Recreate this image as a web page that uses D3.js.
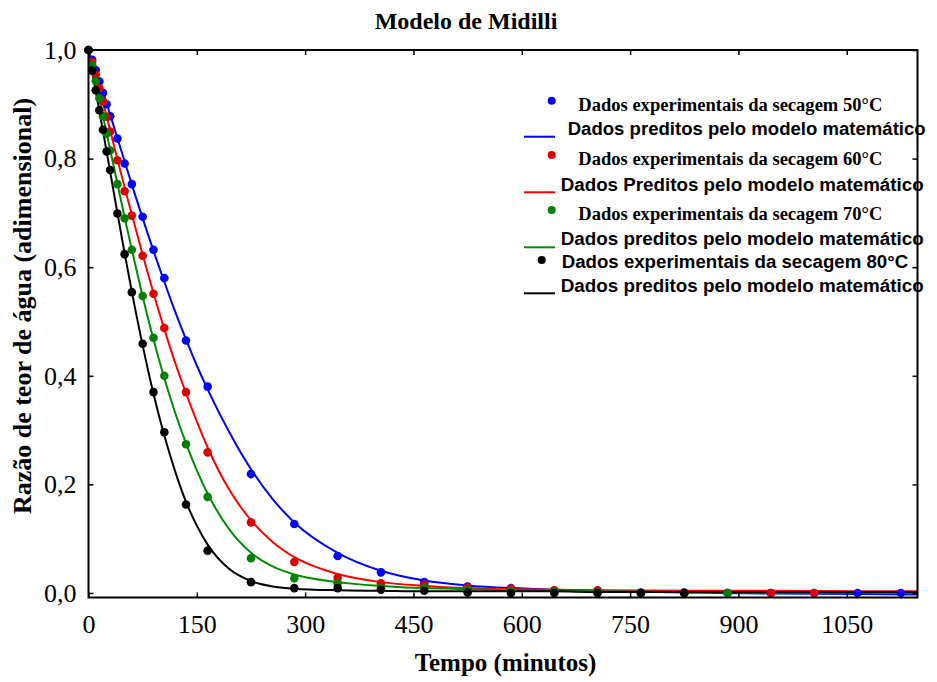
<!DOCTYPE html>
<html>
<head>
<meta charset="utf-8">
<script src="https://cdn.jsdelivr.net/npm/d3@7/dist/d3.min.js"></script>
<style>
  html, body { margin: 0; padding: 0; background: #fff; }
  svg { display: block; }
</style>
</head>
<body>
<svg id="chart" width="937" height="682"></svg>
<script>
// Experimental sampling times (minutes)
const times = [0, 5, 10, 15, 20, 25, 30, 40, 50, 60, 75, 90, 105, 135, 165, 225, 285, 345,
  405, 465, 525, 585, 645, 705, 765, 825, 885, 945, 1005, 1065, 1125];

// Measured moisture ratio at each drying temperature (null = no reading)
const exp50 = [1.000, 0.982, 0.963, 0.942, 0.921, 0.900, 0.878, 0.837, 0.791, 0.753, 0.693, 0.632,
  0.580, 0.465, 0.380, 0.219, 0.127, 0.068, 0.038, 0.020, 0.012, 0.009, 0.004, 0.003, 0.001,
  0.001, 0.000, 0.000, 0.000, 0.000, 0.000];
const exp60 = [1.000, 0.978, 0.955, 0.930, 0.905, 0.877, 0.850, 0.797, 0.740, 0.695, 0.621, 0.551,
  0.488, 0.370, 0.259, 0.130, 0.057, 0.028, 0.018, 0.015, 0.010, 0.008, 0.005, 0.005, 0.000,
  0.000, 0.000, 0.000, 0.000, null, null];
const exp70 = [1.000, 0.972, 0.943, 0.911, 0.878, 0.846, 0.815, 0.753, 0.690, 0.632, 0.547, 0.470,
  0.400, 0.274, 0.177, 0.064, 0.027, 0.018, 0.009, 0.010, 0.006, 0.004, 0.002, 0.001, 0.000,
  0.000, 0.000, null, null, null, null];
const exp80 = [1.000, 0.962, 0.926, 0.889, 0.853, 0.813, 0.779, 0.699, 0.624, 0.554, 0.459, 0.370,
  0.296, 0.163, 0.078, 0.020, 0.009, 0.009, 0.006, 0.004, 0.001, 0.000, 0.000, 0.000, 0.000,
  0.000, null, null, null, null, null];

// Midilli model predictions, sampled along the time axis
const predTimes = [0, 10, 20, 30, 40, 50, 60, 75, 90, 105, 120, 135, 150, 165, 195, 225, 255, 285,
  345, 405, 465, 525, 585, 645, 705, 825, 945, 1065, 1148];
const pred50 = [0.998, 0.964, 0.924, 0.881, 0.838, 0.795, 0.752, 0.690, 0.630, 0.573, 0.518, 0.467,
  0.419, 0.375, 0.296, 0.228, 0.173, 0.130, 0.074, 0.041, 0.023, 0.014, 0.009, 0.006, 0.004,
  0.001, -0.001, -0.002, -0.003];
const pred60 = [0.998, 0.955, 0.905, 0.852, 0.799, 0.747, 0.697, 0.623, 0.552, 0.486, 0.424, 0.368,
  0.316, 0.268, 0.190, 0.134, 0.094, 0.066, 0.035, 0.020, 0.013, 0.009, 0.007, 0.006, 0.005,
  0.004, 0.004, 0.003, 0.003];
const pred70 = [0.998, 0.942, 0.879, 0.816, 0.754, 0.692, 0.632, 0.546, 0.467, 0.396, 0.332, 0.276,
  0.226, 0.183, 0.117, 0.074, 0.049, 0.034, 0.020, 0.013, 0.009, 0.007, 0.005, 0.004, 0.003,
  0.002, 0.001, 0.001, 0.000];
const pred80 = [0.998, 0.925, 0.851, 0.776, 0.700, 0.626, 0.555, 0.456, 0.367, 0.290, 0.224, 0.168,
  0.124, 0.089, 0.044, 0.022, 0.012, 0.008, 0.005, 0.004, 0.003, 0.003, 0.003, 0.003, 0.002,
  0.002, 0.002, 0.002, 0.002];

// Axis ticks
const xTicks = [0, 150, 300, 450, 600, 750, 900, 1050];
const yTicks = [0, 0.2, 0.4, 0.6, 0.8, 1.0];

// Legend texts
const legendLabels = [
  "Dados experimentais da secagem 50°C",
  "Dados preditos pelo modelo matemático",
  "Dados experimentais da secagem 60°C",
  "Dados Preditos pelo modelo matemático",
  "Dados experimentais da secagem 70°C",
  "Dados preditos pelo modelo matemático",
  "Dados experimentais da secagem 80°C",
  "Dados preditos pelo modelo matemático"
];

const SERIF = "'Liberation Serif', 'Times New Roman', Times, serif";
const SANS = "'Liberation Sans', Arial, Helvetica, sans-serif";

const series = [
  { obs: exp50, pred: pred50, point: "#0000ff", line: "#0000ff" },
  { obs: exp60, pred: pred60, point: "#dd0000", line: "#ff0000" },
  { obs: exp70, pred: pred70, point: "#008000", line: "#008c00" },
  { obs: exp80, pred: pred80, point: "#000000", line: "#000000" }
];

const svg = d3.select("#chart");
const plotL = 88.5, plotR = 917.5, plotT = 50, plotB = 597.5;

const x = d3.scaleLinear().domain([0, 1148]).range([plotL, plotR]);
const y = d3.scaleLinear().domain([-0.0083, 1.0]).range([plotB, plotT]);

// Title
svg.append("text")
  .attr("x", 466).attr("y", 29)
  .attr("text-anchor", "middle")
  .style("font-family", SERIF).style("font-weight", "bold").style("font-size", "24px")
  .text("Modelo de Midilli");

// Model curves
const line = d3.line()
  .x((d) => x(d[0]))
  .y((d) => y(d[1]))
  .curve(d3.curveMonotoneX);

series.forEach((s) => {
  svg.append("path")
    .datum(predTimes.map((t, i) => [t, s.pred[i]]))
    .attr("fill", "none")
    .attr("stroke", s.line)
    .attr("stroke-width", 2)
    .attr("d", line);
});

// Experimental points
series.forEach((s) => {
  const pts = times.map((t, i) => [t, s.obs[i]]).filter((d) => d[1] !== null);
  svg.append("g").selectAll("circle")
    .data(pts)
    .join("circle")
    .attr("cx", (d) => x(d[0]))
    .attr("cy", (d) => y(d[1]))
    .attr("r", 4.3)
    .attr("fill", s.point);
});

// Legend
const legendRows = [
  { kind: "dot", color: "#0000ff", sx: 551.7, sy: 100.7, tx: 578.3, ty: 111, w: 304, font: SERIF, size: 18.5 },
  { kind: "line", color: "#0000ff", sy: 136.7, tx: 567.7, ty: 135, w: 358, font: SANS, size: 17.5 },
  { kind: "dot", color: "#dd0000", sx: 551.7, sy: 155, tx: 578.3, ty: 165, w: 304, font: SERIF, size: 18.5 },
  { kind: "line", color: "#ff0000", sy: 192.3, tx: 560.7, ty: 191, w: 363, font: SANS, size: 17.5 },
  { kind: "dot", color: "#008000", sx: 551.7, sy: 210, tx: 578.3, ty: 220, w: 304, font: SERIF, size: 18.5 },
  { kind: "line", color: "#008c00", sy: 247.3, tx: 560.7, ty: 244.5, w: 363, font: SANS, size: 17.5 },
  { kind: "dot", color: "#000000", sx: 541.7, sy: 260, tx: 561.7, ty: 268, w: 346.5, font: SANS, size: 17.5 },
  { kind: "line", color: "#000000", sy: 293.3, tx: 560.7, ty: 291.7, w: 363, font: SANS, size: 17.5 }
];

const lg = svg.append("g");
legendRows.forEach((r, i) => {
  if (r.kind === "dot") {
    lg.append("circle").attr("cx", r.sx).attr("cy", r.sy).attr("r", 4).attr("fill", r.color);
  } else {
    lg.append("line").attr("x1", 524).attr("x2", 555).attr("y1", r.sy).attr("y2", r.sy)
      .attr("stroke", r.color).attr("stroke-width", 2);
  }
  lg.append("text")
    .attr("x", r.tx).attr("y", r.ty)
    .attr("textLength", r.w).attr("lengthAdjust", "spacingAndGlyphs")
    .style("font-family", r.font).style("font-weight", "bold").style("font-size", r.size + "px")
    .text(legendLabels[i]);
});

// Axes (ticks pointing inward on all four sides)
const fmtY = (d) => d3.format(".1f")(d).replace(".", ",");

const gx = svg.append("g").attr("transform", `translate(0,${plotB})`)
  .call(d3.axisBottom(x).tickValues(xTicks).tickSize(-5).tickPadding(17).tickFormat(d3.format("d")));
const gxTop = svg.append("g").attr("transform", `translate(0,${plotT})`)
  .call(d3.axisTop(x).tickValues(xTicks).tickSize(-5).tickFormat(""));
const gy = svg.append("g").attr("transform", `translate(${plotL},0)`)
  .call(d3.axisLeft(y).tickValues(yTicks).tickSize(-5).tickPadding(12).tickFormat(fmtY));
const gyRight = svg.append("g").attr("transform", `translate(${plotR},0)`)
  .call(d3.axisRight(y).tickValues(yTicks).tickSize(-5).tickFormat(""));

[gx, gxTop, gy, gyRight].forEach((g) => {
  g.select(".domain").remove();
  g.selectAll(".tick line").attr("stroke", "#000").attr("stroke-width", 1.5);
});
gx.selectAll("text").style("font-family", SERIF).style("font-size", "26px").attr("fill", "#000");
gy.selectAll("text").style("font-family", SERIF).style("font-size", "26px").attr("fill", "#000");

// Frame
svg.append("rect")
  .attr("x", plotL).attr("y", plotT)
  .attr("width", plotR - plotL).attr("height", plotB - plotT)
  .attr("fill", "none").attr("stroke", "#000").attr("stroke-width", 2);

// Axis titles
svg.append("text")
  .attr("x", 505.5).attr("y", 671)
  .attr("text-anchor", "middle")
  .style("font-family", SERIF).style("font-weight", "bold").style("font-size", "25px")
  .text("Tempo (minutos)");

svg.append("text")
  .attr("transform", "translate(31,306) rotate(-90)")
  .attr("text-anchor", "middle")
  .style("font-family", SERIF).style("font-weight", "bold").style("font-size", "26px")
  .text("Razão de teor de água (adimensional)");
</script>
</body>
</html>
